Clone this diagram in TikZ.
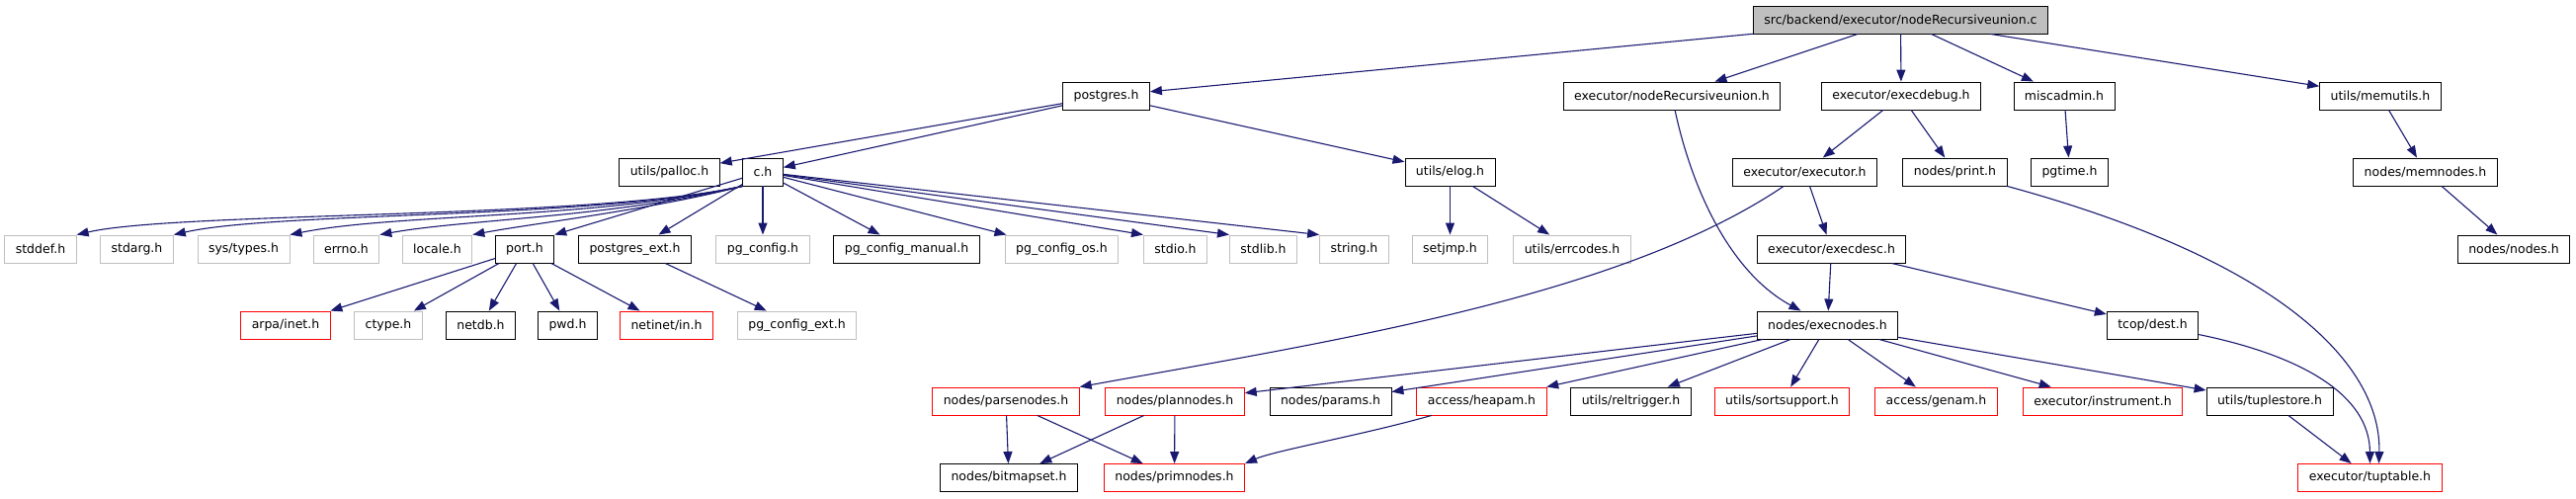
\documentclass[tikz,border=0pt]{standalone}
\usepackage{fontspec}
\setmainfont{DejaVu Sans}
\usetikzlibrary{arrows.meta}
\definecolor{edgeblue}{HTML}{191970}
\definecolor{lightbox}{HTML}{BFBFBF}
\begin{document}
\begin{tikzpicture}[x=1pt,y=-1pt,
    hdr/.style={draw,line width=0.9pt,minimum height=28pt,inner xsep=11pt,inner ysep=0pt,
        font=\fontsize{12.5}{14}\selectfont},
    sys/.style={hdr,draw=lightbox},
    nofile/.style={hdr,draw=red},
    dep/.style={edgeblue,line width=1.1pt,-{Triangle[length=12pt,width=9pt]}}]
        \useasboundingbox (0,0) rectangle (2607,504);

        \node [hdr,fill=lightbox](root)at(1923.5,20){src/backend/executor/nodeRecursiveunion.c};

        \node [hdr](posth)at(1119.5,97){postgres.h};
        \node [hdr](nruh)at(1692,97){executor/nodeRecursiveunion.h};
        \node [hdr](edbg)at(1924,97){executor/execdebug.h};
        \node [hdr](misc)at(2089,97){miscadmin.h};
        \node [hdr](memu)at(2409,97){utils/memutils.h};

        \node [hdr](palloc)at(677.5,174){utils/palloc.h};
        \node [hdr](ch)at(772,174){c.h};
        \node [hdr](elog)at(1467.5,174){utils/elog.h};
        \node [hdr](executor)at(1826.5,174){executor/executor.h};
        \node [hdr](print)at(1978.5,174){nodes/print.h};
        \node [hdr](pgtime)at(2094.5,174){pgtime.h};
        \node [hdr](memnodes)at(2454.5,174){nodes/memnodes.h};

        \node [sys](stddef)at(41,252){stddef.h};
        \node [sys](stdarg)at(138.5,252){stdarg.h};
        \node [sys](systypes)at(246.5,252){sys/types.h};
        \node [sys](errno)at(350.5,252){errno.h};
        \node [sys](locale)at(442.5,252){locale.h};
        \node [hdr](port)at(531,252){port.h};
        \node [hdr](pgext)at(642.5,252){postgres\_ext.h};
        \node [sys](pgconf)at(772,252){pg\_config.h};
        \node [hdr](pgcman)at(917.5,252){pg\_config\_manual.h};
        \node [sys](pgcos)at(1074.5,252){pg\_config\_os.h};
        \node [sys](stdio)at(1189.5,252){stdio.h};
        \node [sys](stdlib)at(1278.5,252){stdlib.h};
        \node [sys](string)at(1370.5,252){string.h};
        \node [sys](setjmp)at(1467.5,252){setjmp.h};
        \node [sys](errcodes)at(1591,252){utils/errcodes.h};
        \node [hdr](execdesc)at(1853.5,252){executor/execdesc.h};
        \node [hdr](nodesh)at(2544,252){nodes/nodes.h};

        \node [nofile](arpa)at(289,329){arpa/inet.h};
        \node [sys](ctype)at(393,329){ctype.h};
        \node [hdr](netdb)at(486.5,329){netdb.h};
        \node [hdr](pwd)at(574.5,329){pwd.h};
        \node [nofile](netinet)at(674.5,329){netinet/in.h};
        \node [sys](pgcext)at(806.5,329){pg\_config\_ext.h};
        \node [hdr](execnodes)at(1849.5,329){nodes/execnodes.h};
        \node [hdr](dest)at(2178.5,329){tcop/dest.h};

        \node [nofile](parsenodes)at(1018,406){nodes/parsenodes.h};
        \node [nofile](plannodes)at(1189,406){nodes/plannodes.h};
        \node [hdr](params)at(1346.5,406){nodes/params.h};
        \node [nofile](heapam)at(1499.5,406){access/heapam.h};
        \node [hdr](reltrig)at(1650.5,406){utils/reltrigger.h};
        \node [nofile](sortsup)at(1803.5,406){utils/sortsupport.h};
        \node [nofile](genam)at(1959.5,406){access/genam.h};
        \node [nofile](instr)at(2128,406){executor/instrument.h};
        \node [hdr](tuplestore)at(2297,406){utils/tuplestore.h};

        \node [hdr](bitmapset)at(1021,483.5){nodes/bitmapset.h};
        \node [nofile](primnodes)at(1188.5,483.5){nodes/primnodes.h};
        \node [nofile](tuptable)at(2398.5,483.5){executor/tuptable.h};

        % the .c file
        \draw [dep] (root) -- (posth);
        \draw [dep] (root) -- (nruh);
        \draw [dep] (root) -- (edbg);
        \draw [dep] (root) -- (misc);
        \draw [dep] (root) -- (memu);

        \draw [dep] (posth) -- (palloc);
        \draw [dep] (posth) -- (ch);
        \draw [dep] (posth) -- (elog);

        % c.h
        \draw [dep] (ch.south west) .. controls (600,222) and (180,214) .. (stddef.north east);
        \draw [dep] (ch.south west) .. controls (600,222) and (280,214) .. (stdarg.north east);
        \draw [dep] (ch.south west) .. controls (600,222) and (400,216) .. (systypes.north east);
        \draw [dep] (ch.south west) .. controls (620,220) and (470,222) .. (errno.north east);
        \draw [dep] (ch.south west) .. controls (660,212) and (540,226) .. (locale.north east);
        \draw [dep] (ch) -- (port.north east);
        \draw [dep] (ch) -- (pgext);
        \draw [dep] (ch) -- (pgconf);
        \draw [dep] (ch) -- (pgcman);
        \draw [dep] (ch) -- (pgcos);
        \draw [dep] (ch) -- (stdio.north west);
        \draw [dep] (ch) -- (stdlib.north west);
        \draw [dep] (ch) -- (string.north west);

        \draw [dep] (elog) -- (setjmp);
        \draw [dep] (elog) -- (errcodes);

        \draw [dep] (port) -- (arpa);
        \draw [dep] (port) -- (ctype);
        \draw [dep] (port) -- (netdb);
        \draw [dep] (port) -- (pwd);
        \draw [dep] (port) -- (netinet);
        \draw [dep] (pgext) -- (pgcext);

        % executor side
        \draw [dep] (nruh) .. controls (1712,190) and (1750,275) .. ([xshift=-27pt]execnodes.north);
        \draw [dep] (edbg) -- (executor);
        \draw [dep] (edbg) -- (print);
        \draw [dep] (misc) -- (pgtime);
        \draw [dep] (memu) -- (memnodes);
        \draw [dep] (memnodes) -- (nodesh);

        \draw [dep] (executor) -- (execdesc);
        \draw [dep] (executor) .. controls (1640,300) and (1350,345) .. (parsenodes.north east);
        \draw [dep] (execdesc) -- (execnodes);
        \draw [dep] (execdesc) -- (dest);
        \draw [dep] (print) .. controls (2330,270) and (2410,380) .. ([xshift=9pt]tuptable.north);
        \draw [dep] (dest) .. controls (2330,360) and (2398,400) .. (tuptable.north);

        \draw [dep] (execnodes) -- (plannodes);
        \draw [dep] (execnodes) -- (params);
        \draw [dep] (execnodes) -- (heapam);
        \draw [dep] (execnodes) -- (reltrig);
        \draw [dep] (execnodes) -- (sortsup);
        \draw [dep] (execnodes) -- (genam);
        \draw [dep] (execnodes) -- (instr);
        \draw [dep] (execnodes) -- (tuplestore);

        \draw [dep] (parsenodes) -- (bitmapset);
        \draw [dep] (parsenodes) -- (primnodes);
        \draw [dep] (plannodes) -- (bitmapset);
        \draw [dep] (plannodes) -- (primnodes);
        \draw [dep] (heapam) .. controls (1380,440) and (1290,456) .. (primnodes.north east);
        \draw [dep] (tuplestore) -- (tuptable);
    \end{tikzpicture}
\end{document}
